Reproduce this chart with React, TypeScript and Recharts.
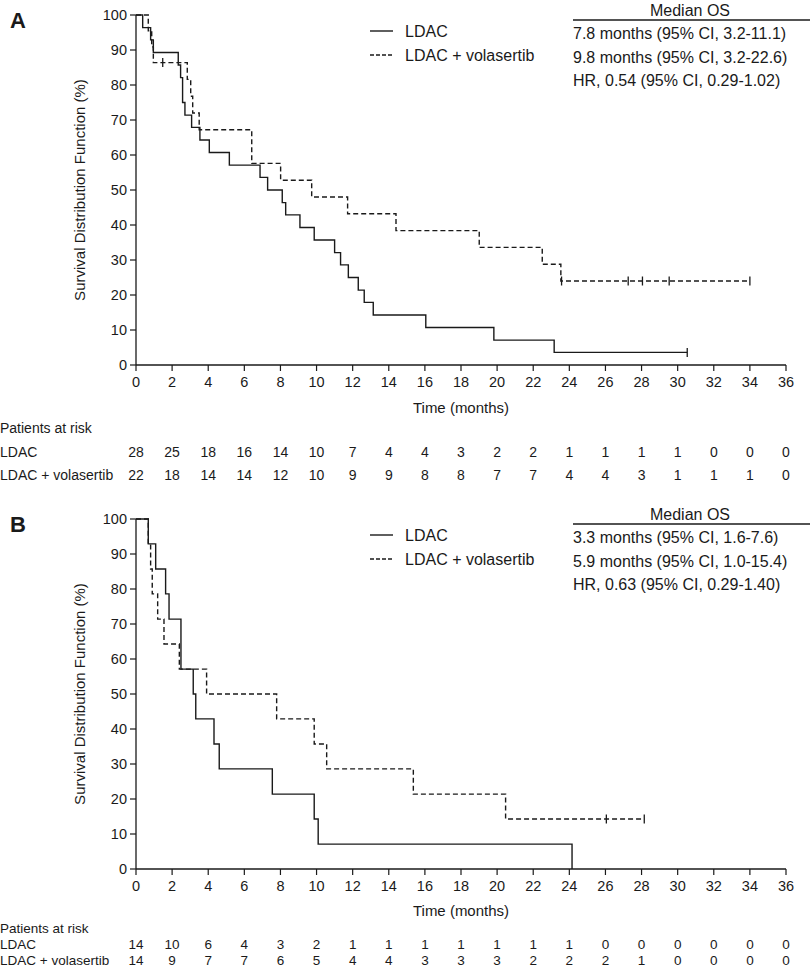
import React from "react";
import { ComposedChart, Line, Scatter, XAxis, YAxis } from "recharts";

const FONT = '"Liberation Sans", Arial, Helvetica, sans-serif';
const INK = "#1a1a1a";

const timeTicks = [0, 2, 4, 6, 8, 10, 12, 14, 16, 18, 20, 22, 24, 26, 28, 30, 32, 34, 36];
const survTicks = [0, 10, 20, 30, 40, 50, 60, 70, 80, 90, 100];

// Panel A - Kaplan-Meier steps
const aLdacTime = [0, 0.37, 0.81, 0.96, 2.34, 2.47, 2.58, 2.71, 3.08, 3.54, 4.06, 5.17, 6.87, 7.29, 8.1, 8.29, 9.08, 9.87, 11.0, 11.33, 11.76, 12.31, 12.64, 13.14, 16.05, 19.82, 23.16, 30.53];
const aLdacSurv = [100, 96.4, 92.9, 89.3, 85.7, 82.1, 75.0, 71.4, 67.9, 64.3, 60.7, 57.1, 53.6, 50.0, 46.4, 42.9, 39.3, 35.7, 32.1, 28.6, 25.0, 21.4, 17.9, 14.3, 10.7, 7.1, 3.6, 3.6];
const aLdacCensorTime = [30.53];
const aLdacCensorSurv = [3.6];

const aVolTime = [0, 0.68, 0.87, 0.96, 2.84, 3.03, 3.14, 3.5, 6.41, 8.01, 9.73, 11.72, 14.4, 19.01, 22.5, 23.53, 34.0];
const aVolSurv = [100, 95.5, 90.9, 86.4, 81.6, 76.8, 72.0, 67.2, 57.6, 52.8, 48.0, 43.2, 38.4, 33.6, 28.8, 24.0, 24.0];
const aVolCensorTime = [1.48, 23.57, 27.26, 28.05, 29.53, 34.0];
const aVolCensorSurv = [86.4, 24.0, 24.0, 24.0, 24.0, 24.0];

const aRiskLdac = [28, 25, 18, 16, 14, 10, 7, 4, 4, 3, 2, 2, 1, 1, 1, 1, 0, 0, 0];
const aRiskVol = [22, 18, 14, 14, 12, 10, 9, 9, 8, 8, 7, 7, 4, 4, 3, 1, 1, 1, 0];

// Panel B
const bLdacTime = [0, 0.68, 1.09, 1.64, 1.83, 2.49, 3.17, 3.31, 4.32, 4.61, 7.55, 9.87, 10.09, 24.15];
const bLdacSurv = [100, 92.9, 85.7, 78.6, 71.4, 57.1, 50.0, 42.9, 35.7, 28.6, 21.4, 14.3, 7.1, 0];

const bVolTime = [0, 0.68, 0.81, 0.9, 1.2, 1.55, 2.4, 3.91, 7.79, 9.87, 10.56, 15.36, 20.47, 28.15];
const bVolSurv = [100, 92.9, 85.7, 78.6, 71.4, 64.3, 57.1, 50.0, 42.9, 35.7, 28.6, 21.4, 14.3, 14.3];
const bVolCensorTime = [26.05, 28.15];
const bVolCensorSurv = [14.3, 14.3];

const bRiskLdac = [14, 10, 6, 4, 3, 2, 1, 1, 1, 1, 1, 1, 1, 0, 0, 0, 0, 0, 0];
const bRiskVol = [14, 9, 7, 7, 6, 5, 4, 4, 3, 3, 3, 2, 2, 2, 1, 0, 0, 0, 0];

const toPoints = (t: number[], s: number[]) => t.map((v, i) => ({ t: v, s: s[i] }));

const CensorMark = (props: any) => {
  const { cx, cy } = props;
  if (cx == null || cy == null) return null;
  return <line x1={cx} x2={cx} y1={cy - 4.5} y2={cy + 4.5} stroke={INK} strokeWidth={1.3} />;
};

function TimeTick(props: any) {
  const { x, y, payload, riskTop, riskBottom, rows, riskSize } = props;
  const i = timeTicks.indexOf(payload.value);
  const common = { x, textAnchor: "middle" as const, dominantBaseline: "central" as const, fill: INK };
  return (
    <g>
      <text {...common} y={y + rows[0]} fontSize={14.5}>{payload.value}</text>
      <text {...common} y={y + rows[1]} fontSize={riskSize}>{riskTop[i]}</text>
      <text {...common} y={y + rows[2]} fontSize={riskSize}>{riskBottom[i]}</text>
    </g>
  );
}

type PanelProps = {
  top: number;
  height: number;
  marginTop: number;
  bottomSpace: number;
  solid: { t: number; s: number }[];
  dashed: { t: number; s: number }[];
  solidCensor: { t: number; s: number }[];
  dashedCensor: { t: number; s: number }[];
  riskTop: number[];
  riskBottom: number[];
  rows: number[];
  riskSize: number;
  timeOffset: number;
};

function Panel(p: PanelProps) {
  return (
    <div style={{ position: "absolute", left: 0, top: p.top }}>
      <ComposedChart
        width={810}
        height={p.height}
        margin={{ top: p.marginTop, right: 24, bottom: p.bottomSpace - 30, left: 24 }}
        style={{ fontFamily: FONT }}
      >
        <XAxis
          dataKey="t"
          type="number"
          domain={[0, 36]}
          ticks={timeTicks}
          interval={0}
          height={30}
          tickSize={6}
          tickMargin={0}
          stroke={INK}
          axisLine={{ stroke: INK, strokeWidth: 1.3 }}
          tickLine={{ stroke: INK, strokeWidth: 1.2 }}
          tick={(tp: any) => (
            <TimeTick {...tp} riskTop={p.riskTop} riskBottom={p.riskBottom} rows={p.rows} riskSize={p.riskSize} />
          )}
          label={{ value: "Time (months)", position: "bottom", offset: p.timeOffset, fill: INK, fontSize: 15 }}
        />
        <YAxis
          type="number"
          domain={[0, 100]}
          ticks={survTicks}
          interval={0}
          width={112}
          tickSize={6}
          tickMargin={3}
          axisLine={{ stroke: INK, strokeWidth: 1.3 }}
          tickLine={{ stroke: INK, strokeWidth: 1.2 }}
          tick={{ fill: INK, fontSize: 14.5 }}
          label={{ value: "Survival Distribution Function (%)", angle: -90, position: "center", fill: INK, fontSize: 15 }}
        />
        <Line data={p.solid} dataKey="s" type="stepAfter" stroke={INK} strokeWidth={1.4} dot={false} isAnimationActive={false} />
        <Line data={p.dashed} dataKey="s" type="stepAfter" stroke={INK} strokeWidth={1.4} strokeDasharray="5 3" dot={false} isAnimationActive={false} />
        {p.solidCensor.length > 0 && (
          <Scatter data={p.solidCensor} dataKey="s" shape={<CensorMark />} isAnimationActive={false} />
        )}
        {p.dashedCensor.length > 0 && (
          <Scatter data={p.dashedCensor} dataKey="s" shape={<CensorMark />} isAnimationActive={false} />
        )}
      </ComposedChart>
    </div>
  );
}

function Annotations({ dy, letter, lines }: { dy: number; letter: string; lines: string[] }) {
  const t = { fill: INK, fontSize: 16, dominantBaseline: "central" as const };
  return (
    <g>
      <text x={10} y={20 + dy} fontSize={22} fontWeight="bold" fill={INK} dominantBaseline="central">{letter}</text>
      <line x1={370} x2={393} y1={31 + dy} y2={31 + dy} stroke={INK} strokeWidth={1.4} />
      <text {...t} x={405} y={31 + dy}>LDAC</text>
      <line x1={370} x2={393} y1={55 + dy} y2={55 + dy} stroke={INK} strokeWidth={1.4} strokeDasharray="4 2" />
      <text {...t} x={405} y={55 + dy}>LDAC + volasertib</text>
      <text {...t} x={690} y={10 + dy} textAnchor="middle">Median OS</text>
      <line x1={573} x2={810} y1={20 + dy} y2={20 + dy} stroke={INK} strokeWidth={1.5} />
      <text {...t} x={573} y={33 + dy}>{lines[0]}</text>
      <text {...t} x={573} y={57 + dy}>{lines[1]}</text>
      <text {...t} x={573} y={80 + dy}>{lines[2]}</text>
    </g>
  );
}

export default function App() {
  const rowLabel = { fill: INK, fontSize: 14, dominantBaseline: "central" as const };
  const rowLabelB = { ...rowLabel, fontSize: 13.5 };
  return (
    <div style={{ position: "absolute", left: 0, top: 0, width: 810, height: 970, background: "#fff", fontFamily: FONT, overflow: "hidden" }}>
      <Panel
        top={0}
        height={490}
        marginTop={15}
        bottomSpace={125}
        solid={toPoints(aLdacTime, aLdacSurv)}
        dashed={toPoints(aVolTime, aVolSurv)}
        solidCensor={toPoints(aLdacCensorTime, aLdacCensorSurv)}
        dashedCensor={toPoints(aVolCensorTime, aVolCensorSurv)}
        riskTop={aRiskLdac}
        riskBottom={aRiskVol}
        rows={[11, 81, 104]}
        riskSize={14}
        timeOffset={7}
      />
      <Panel
        top={490}
        height={480}
        marginTop={29}
        bottomSpace={101}
        solid={toPoints(bLdacTime, bLdacSurv)}
        dashed={toPoints(bVolTime, bVolSurv)}
        solidCensor={[]}
        dashedCensor={toPoints(bVolCensorTime, bVolCensorSurv)}
        riskTop={bRiskLdac}
        riskBottom={bRiskVol}
        rows={[11, 69, 85]}
        riskSize={13.5}
        timeOffset={6}
      />
      <svg width={810} height={970} style={{ position: "absolute", left: 0, top: 0, pointerEvents: "none", fontFamily: FONT }}>
        <Annotations
          dy={0}
          letter="A"
          lines={["7.8 months (95% CI, 3.2-11.1)", "9.8 months (95% CI, 3.2-22.6)", "HR, 0.54 (95% CI, 0.29-1.02)"]}
        />
        <Annotations
          dy={504}
          letter="B"
          lines={["3.3 months (95% CI, 1.6-7.6)", "5.9 months (95% CI, 1.0-15.4)", "HR, 0.63 (95% CI, 0.29-1.40)"]}
        />
        <text {...rowLabel} x={0} y={428}>Patients at risk</text>
        <text {...rowLabel} x={0} y={452}>LDAC</text>
        <text {...rowLabel} x={0} y={475}>LDAC + volasertib</text>
        <text {...rowLabelB} x={0} y={928}>Patients at risk</text>
        <text {...rowLabelB} x={0} y={944}>LDAC</text>
        <text {...rowLabelB} x={0} y={960}>LDAC + volasertib</text>
      </svg>
    </div>
  );
}
